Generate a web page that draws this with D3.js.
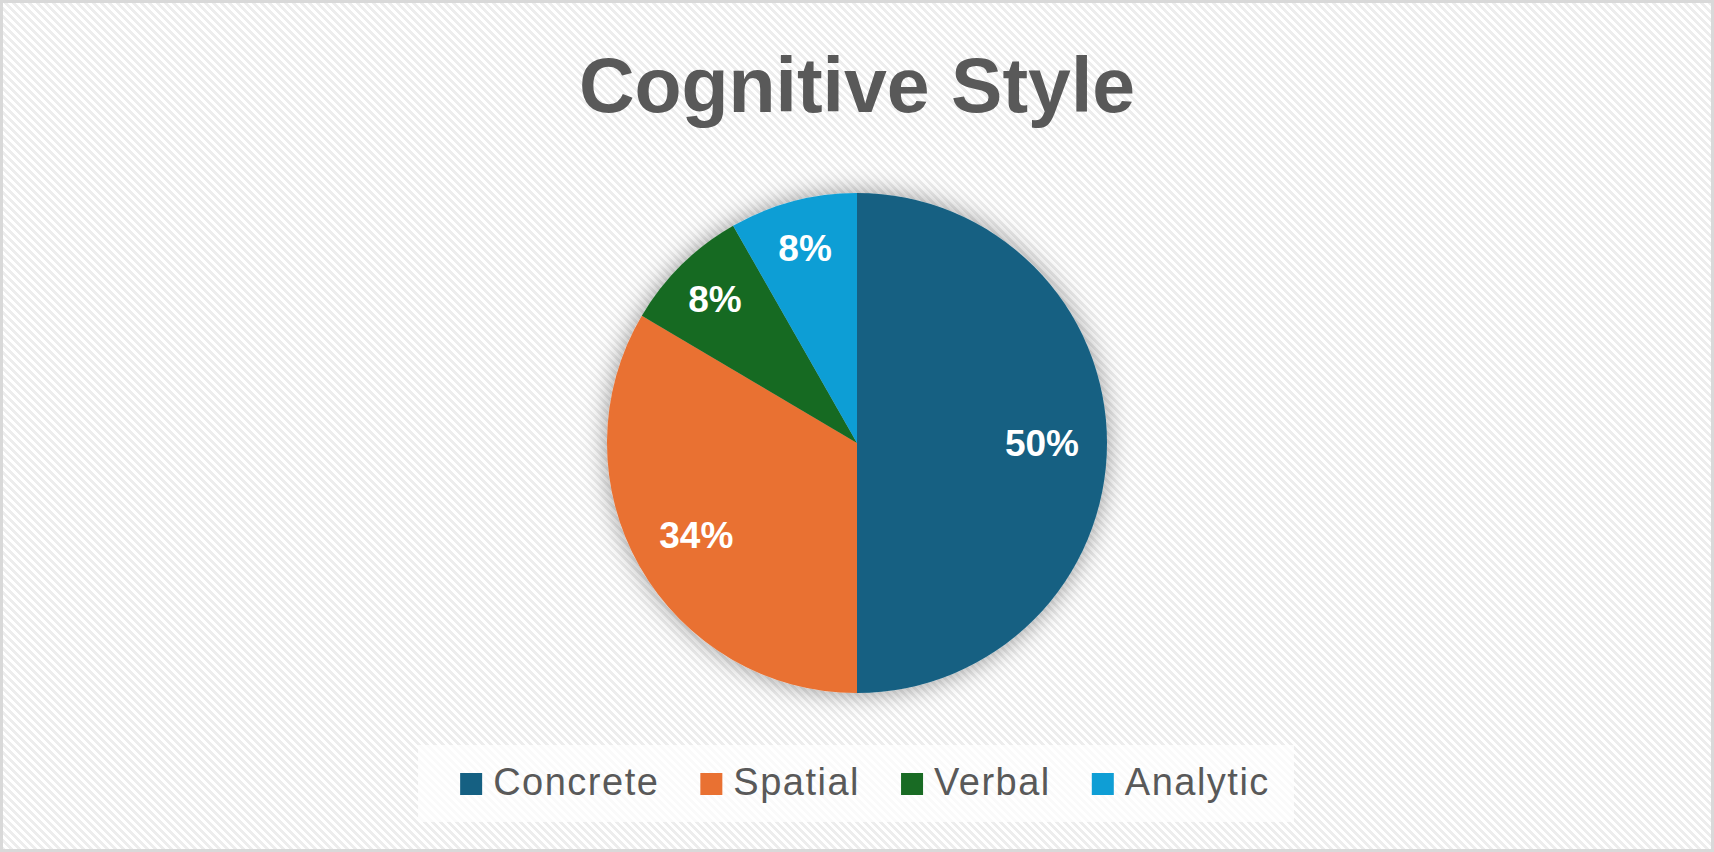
<!DOCTYPE html>
<html>
<head>
<meta charset="utf-8">
<script src="https://cdn.jsdelivr.net/npm/d3@7"></script>
<style>
	html, body { margin:0; padding:0; background:#fff; }
	svg { display:block; }
</style>
</head>
<body>
<div id="svg-container"></div>
<script>
// chart data (percent of respondents)
var categories = ["Concrete", "Spatial", "Verbal", "Analytic"];
var values     = [50, 33.5, 8.25, 8.25];
var colors     = ["#156082", "#E97132", "#196B24", "#0F9ED5"];
var chartTitle = "Cognitive Style";

var _outerSize = { width:1714, height:852 };
var _center    = { x:857, y:443 };
var _radius    = 250;
var _textColor = "#595959";
var _font      = "'Liberation Sans', Arial, sans-serif";

var svg = d3.select("#svg-container")
	.append("svg")
	.attr("width", _outerSize.width)
	.attr("height", _outerSize.height);

var defs = svg.append("defs");

// diagonal stripes of the chart area
var pattern = defs.append("pattern")
	.attr("id", "stripes")
	.attr("patternUnits", "userSpaceOnUse")
	.attr("width", 8)
	.attr("height", 8);
pattern.append("rect").attr("width", 8).attr("height", 8).attr("fill", "#ffffff");
pattern.append("path")
	.attr("d", "M0,0 L4,0 L8,4 L8,8 Z M0,4 L4,8 L0,8 Z")
	.attr("shape-rendering", "crispEdges")
	.attr("fill", "#ededed");

// soft shadow round the pie
var shadow = defs.append("filter")
	.attr("id", "pie-shadow")
	.attr("x", "-25%").attr("y", "-25%")
	.attr("width", "150%").attr("height", "150%");
shadow.append("feGaussianBlur")
	.attr("in", "SourceAlpha")
	.attr("stdDeviation", 12)
	.attr("result", "blur");
shadow.append("feFlood").attr("flood-color", "#000").attr("flood-opacity", 0.4);
shadow.append("feComposite").attr("in2", "blur").attr("operator", "in").attr("result", "glow");
var merge = shadow.append("feMerge");
merge.append("feMergeNode").attr("in", "glow");
merge.append("feMergeNode").attr("in", "SourceGraphic");

// background + border
svg.append("rect")
	.attr("x", 1.5).attr("y", 1.5)
	.attr("width", _outerSize.width - 3)
	.attr("height", _outerSize.height - 3)
	.attr("fill", "url(#stripes)")
	.attr("stroke", "#d9d9d9")
	.attr("stroke-width", 3);

// title
svg.append("text")
	.attr("x", _center.x)
	.attr("y", 112)
	.attr("text-anchor", "middle")
	.style("font-family", _font)
	.style("font-weight", "bold")
	.style("font-size", "77px")
	.attr("fill", _textColor)
	.text(chartTitle);

// pie
var data = categories.map(function(c, i) { return { name:c, value:values[i], color:colors[i] }; });
var total = d3.sum(values);

var pie = d3.pie()
	.sort(null)
	.value(function(d) { return d.value; });

var arc = d3.arc()
	.innerRadius(0)
	.outerRadius(_radius);

var pieGroup = svg.append("g")
	.attr("class", "pie")
	.attr("transform", "translate(" + _center.x + "," + _center.y + ")");

pieGroup.append("g")
	.attr("filter", "url(#pie-shadow)")
	.selectAll("path")
	.data(pie(data))
	.enter()
	.append("path")
	.attr("d", arc)
	.attr("fill", function(d) { return d.data.color; });

// data labels: small slices sit a bit further out
pieGroup.selectAll("text")
	.data(pie(data))
	.enter()
	.append("text")
	.attr("transform", function(d) {
		var share = d.data.value / total;
		var r = share < 0.15 ? _radius * 0.81 : _radius * 0.74;
		var c = d3.arc().innerRadius(r).outerRadius(r).centroid(d);
		return "translate(" + c[0] + "," + c[1] + ")";
	})
	.attr("text-anchor", "middle")
	.attr("dy", "0.36em")
	.style("font-family", _font)
	.style("font-weight", "bold")
	.style("font-size", "37px")
	.attr("fill", "#ffffff")
	.text(function(d) { return Math.round(d.data.value / total * 100) + "%"; });

// legend
svg.append("rect")
	.attr("x", 418).attr("y", 745)
	.attr("width", 876).attr("height", 77)
	.attr("fill", "#ffffff")
	.attr("fill-opacity", 0.7);

var legend = svg.append("g").attr("class", "legend");
var xPos = 0;
data.forEach(function(d) {
	var item = legend.append("g").attr("transform", "translate(" + xPos + ",0)");
	item.append("rect")
		.attr("x", 0).attr("y", 773)
		.attr("width", 22).attr("height", 22)
		.attr("fill", d.color);
	var t = item.append("text")
		.attr("x", 33).attr("y", 795)
		.style("font-family", _font)
		.style("font-size", "38px")
		.style("letter-spacing", "1.5px")
		.attr("fill", _textColor)
		.text(d.name);
	xPos += 33 + t.node().getComputedTextLength() + 41;
});
var legendWidth = xPos - 41;
legend.attr("transform", "translate(" + (865 - legendWidth / 2) + ",0)");
</script>
</body>
</html>
